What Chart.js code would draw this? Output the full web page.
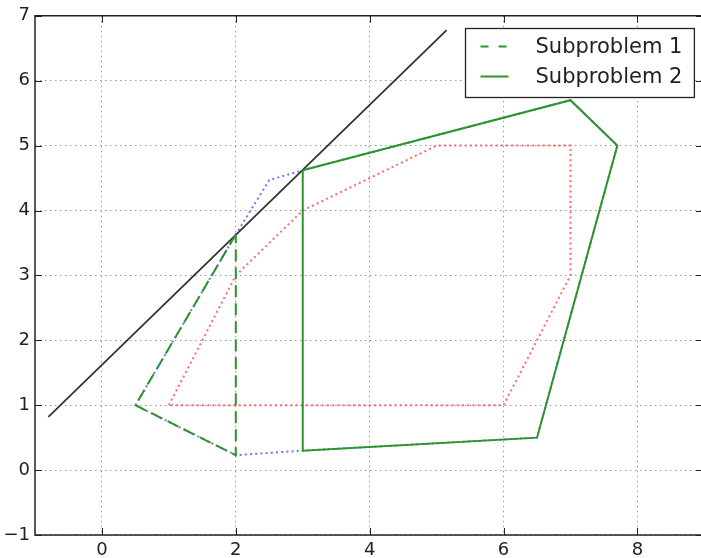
<!DOCTYPE html>
<html>
<head>
<meta charset="utf-8">
<script src="https://cdn.jsdelivr.net/npm/chart.js@4.4.0/dist/chart.umd.min.js"></script>
<style>
html, body { margin: 0; padding: 0; background: #fff; }
#wrap { width: 701px; height: 558px; }
</style>
</head>
<body>
<div id="wrap"><canvas id="chart"></canvas></div>
<script>
// tick positions
const xTicks = [0, 2, 4, 6, 8];
const yTicks = [-1, 0, 1, 2, 3, 4, 5, 6, 7];

// cutting line (black)
const cutX = [-0.8, 5.15];
const cutY = [0.82, 6.78];

// subproblem 1 (dashed green)
const sub1X = [2, 0.5, 2, 2];
const sub1Y = [3.63, 1, 0.23, 3.63];

// subproblem 2 (solid green)
const sub2X = [3, 7, 7.7, 6.5, 3, 3];
const sub2Y = [4.62, 5.7, 5, 0.5, 0.3, 4.62];

// hull (blue dotted)
const hullX = [0.5, 2, 2.5, 3, 7, 7.7, 6.5, 3, 2, 0.5];
const hullY = [1, 3.63, 4.47, 4.62, 5.7, 5, 0.5, 0.3, 0.23, 1];

// original polygon (red dotted)
const polyX = [1, 2, 3, 5, 7, 7, 6, 1];
const polyY = [1, 3, 4, 5, 5, 3, 1, 1];

const pts = (xs, ys) => xs.map((x, i) => ({x: x, y: ys[i]}));

const GREEN = '#2a962a';
const FONT = '"DejaVu Sans", "Bitstream Vera Sans", sans-serif';

function line(data, color, width, dash, label)
{
	return {
		label: label,
		data: data,
		showLine: true,
		fill: false,
		tension: 0,
		borderColor: color,
		borderWidth: width,
		borderDash: dash,
		pointRadius: 0,
		pointHoverRadius: 0
	};
}

// frame with inward ticks, like matplotlib spines (right spine is cut off)
const frame = {
	id: 'frame',
	afterDraw(chart)
	{
		const ctx = chart.ctx, a = chart.chartArea;
		const xs = chart.scales.x, ys = chart.scales.y;
		ctx.save();
		ctx.strokeStyle = '#222';
		ctx.lineWidth = 1.5;
		ctx.setLineDash([]);
		ctx.beginPath();
		ctx.moveTo(chart.width, a.top);
		ctx.lineTo(a.left, a.top);
		ctx.lineTo(a.left, a.bottom);
		ctx.lineTo(chart.width, a.bottom);
		ctx.stroke();
		ctx.lineWidth = 1;
		ctx.beginPath();
		xTicks.forEach(v => {
			const p = Math.round(xs.getPixelForValue(v)) + 0.5;
			ctx.moveTo(p, a.bottom); ctx.lineTo(p, a.bottom - 7);
			ctx.moveTo(p, a.top); ctx.lineTo(p, a.top + 7);
		});
		yTicks.forEach(v => {
			const p = Math.round(ys.getPixelForValue(v)) + 0.5;
			ctx.moveTo(a.left, p); ctx.lineTo(a.left + 7, p);
			ctx.moveTo(chart.width, p); ctx.lineTo(chart.width - 5, p);
		});
		ctx.stroke();
		ctx.restore();
	}
};

// boxed legend in the upper right corner
const boxLegend = {
	id: 'boxLegend',
	afterDraw(chart)
	{
		const ctx = chart.ctx, a = chart.chartArea;
		const items = chart.data.datasets.filter(d => d.label);
		ctx.save();
		ctx.font = '21px ' + FONT;
		const tw = Math.max(...items.map(d => ctx.measureText(d.label).width));
		const w = 15 + 28 + 27 + tw + 12;
		const h = items.length * 30 + 9;
		const x0 = Math.round(a.right - 7 - w) + 0.5;
		const y0 = Math.round(a.top + 12) + 0.5;
		ctx.fillStyle = '#fff';
		ctx.fillRect(x0, y0, w, h);
		ctx.strokeStyle = '#222';
		ctx.lineWidth = 1.3;
		ctx.strokeRect(x0, y0, w, h);
		items.forEach((d, i) => {
			const cy = y0 + 18 + i * 30;
			ctx.strokeStyle = d.borderColor;
			ctx.lineWidth = d.borderWidth;
			ctx.setLineDash(d.borderDash.length ? [8, 10] : []);
			ctx.beginPath();
			ctx.moveTo(x0 + 15, cy);
			ctx.lineTo(x0 + 43, cy);
			ctx.stroke();
			ctx.setLineDash([]);
			ctx.fillStyle = '#222';
			ctx.textBaseline = 'middle';
			ctx.fillText(d.label, x0 + 70, cy + 1);
		});
		ctx.restore();
	}
};

new Chart(document.getElementById('chart'),
{
	type: 'scatter',
	data:
	{
		datasets: [
			line(pts(sub1X, sub1Y), GREEN, 2, [12, 6], 'Subproblem 1'),
			line(pts(sub2X, sub2Y), GREEN, 2, [], 'Subproblem 2'),
			line(pts(cutX, cutY), '#333', 1.8, []),
			line(pts(hullX, hullY), 'rgba(90,90,255,0.85)', 2, [2, 3.2]),
			line(pts(polyX, polyY), 'rgba(255,80,80,0.85)', 2, [2, 3.2])
		]
	},
	options:
	{
		responsive: true,
		maintainAspectRatio: false,
		animation: false,
		events: [],
		layout: {padding: {top: 15, right: 0, left: 0, bottom: 0}},
		plugins:
		{
			legend: {display: false},
			tooltip: {enabled: false}
		},
		scales:
		{
			x:
			{
				type: 'linear',
				min: -1,
				max: 8.95,
				afterBuildTicks: s => { s.ticks = xTicks.map(v => ({value: v})); },
				afterFit: s => { s.height = 23; },
				grid: {color: '#999', lineWidth: 1, drawTicks: false},
				border: {display: false, dash: [1.5, 3.5]},
				ticks: {padding: 5, color: '#222', font: {family: FONT, size: 18}}
			},
			y:
			{
				type: 'linear',
				min: -1,
				max: 7,
				afterBuildTicks: s => { s.ticks = yTicks.map(v => ({value: v})); },
				afterFit: s => { s.width = 35; },
				grid: {color: '#999', lineWidth: 1, drawTicks: false},
				border: {display: false, dash: [1.5, 3.5]},
				ticks:
				{
					padding: 5,
					color: '#222',
					font: {family: FONT, size: 18},
					callback: v => v < 0 ? '\u2212' + Math.abs(v) : String(v)
				}
			}
		}
	},
	plugins: [frame, boxLegend]
});
</script>
</body>
</html>
